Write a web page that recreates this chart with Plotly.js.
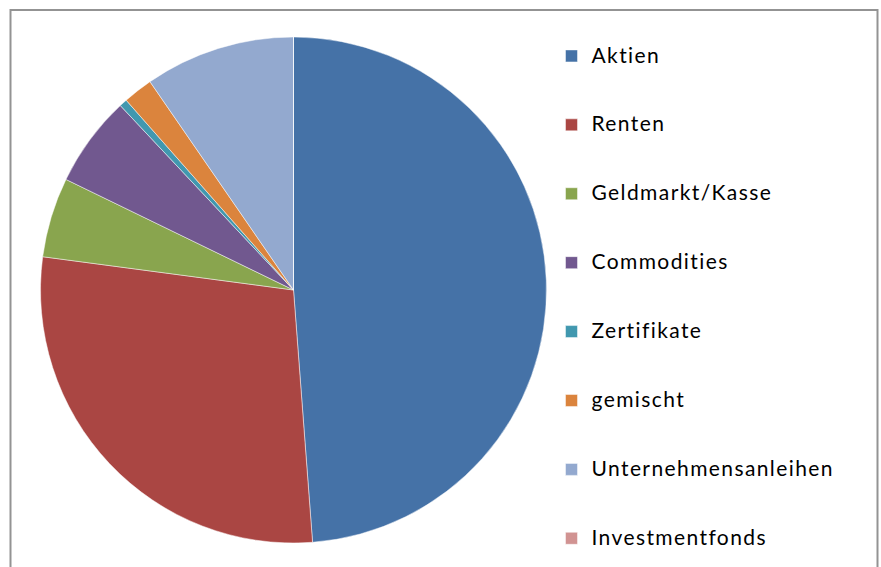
<!DOCTYPE html>
<html>
<head>
<meta charset="utf-8">
<script src="https://cdn.plot.ly/plotly-3.0.1.min.js"></script>
<style>html,body{margin:0;padding:0;background:#fff;}#chart{width:881px;height:567px;}
.legendtext{font-variant-ligatures:none;}</style>
</head>
<body>
<div id="chart"></div>
<script>
var categories = ["Aktien", "Renten", "Geldmarkt/Kasse", "Commodities", "Zertifikate", "gemischt", "Unternehmensanleihen", "Investmentfonds"];
var values = [48.8, 28.3, 5.1, 5.8, 0.5, 1.9, 9.6, 0];
var colors = ["#4572A7", "#AA4643", "#89A54E", "#71588F", "#4198AF", "#DB843D", "#93A9CF", "#D19392"];

var W = 881, H = 567;
var labels = categories.map(function (c) {
  return " <br> <br><span style=\"font-size:21px;letter-spacing:1.4px;font-variant-ligatures:none\">" + c + "</span>";
});

var trace = {
  type: "pie",
  labels: labels,
  values: values,
  sort: false,
  direction: "clockwise",
  rotation: 0,
  textinfo: "none",
  hoverinfo: "skip",
  marker: { colors: colors, line: { color: "rgba(255,255,255,0.6)", width: 0.8 } },
  domain: { x: [40.5 / W, 546.5 / W], y: [1 - 543 / H, 1 - 37 / H] }
};

var layout = {
  width: W, height: H,
  margin: { l: 0, r: 0, t: 0, b: 0, autoexpand: false },
  paper_bgcolor: "#ffffff",
  showlegend: true,
  legend: {
    x: 551.5 / W, xanchor: "left",
    y: 1 + 5.5 / H, yanchor: "top",
    valign: "bottom",
    maxheight: 1000,
    font: { family: "Lato, Carlito, sans-serif", size: 16.9, color: "#000000" },
    bgcolor: "rgba(0,0,0,0)",
    borderwidth: 0,
    tracegroupgap: 0
  },
  shapes: [{
    type: "rect", xref: "paper", yref: "paper",
    x0: 10.5 / W, x1: 877.5 / W, y0: -0.1, y1: 1 - 10 / H,
    line: { color: "#939393", width: 2 }, fillcolor: "rgba(0,0,0,0)"
  }]
};

Plotly.newPlot("chart", [trace], layout, { displayModeBar: false, staticPlot: true });
</script>
</body>
</html>
